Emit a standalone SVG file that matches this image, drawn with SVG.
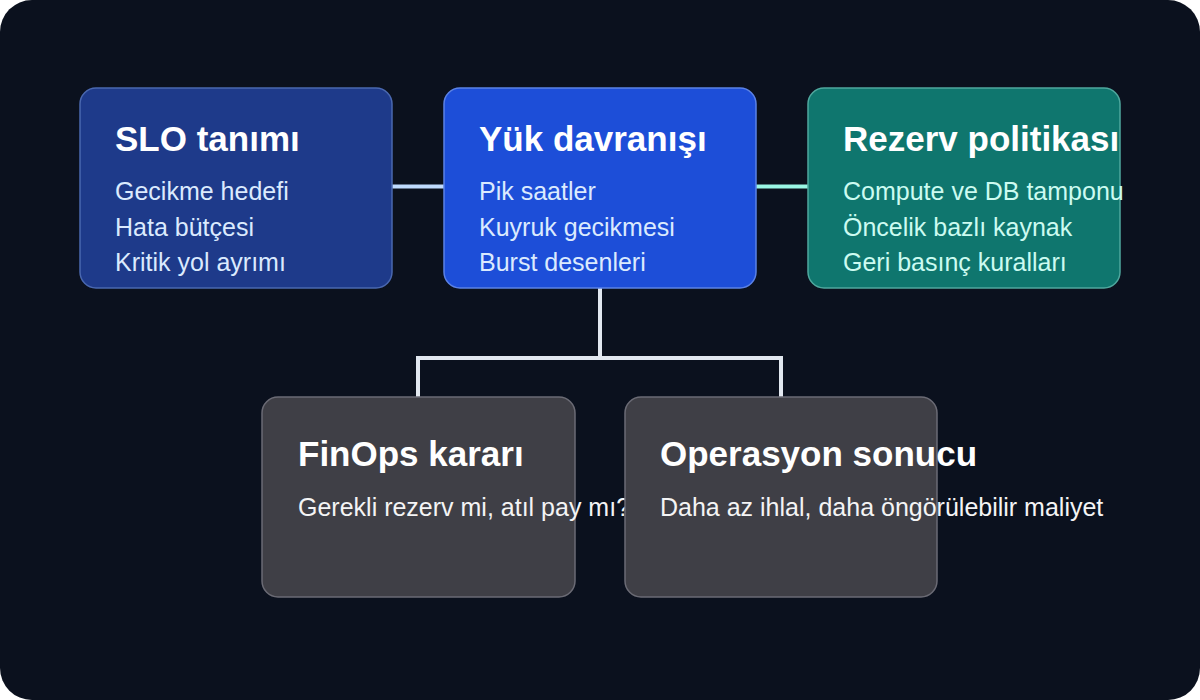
<svg xmlns="http://www.w3.org/2000/svg" width="1200" height="700" viewBox="0 0 1200 700">
<style>
.node rect{stroke-width:1.5}
.title{font-family:"Liberation Sans",Arial,sans-serif;font-weight:bold;font-size:35px;fill:#ffffff}
.body{font-family:"Liberation Sans",Arial,sans-serif;font-size:25px}
.conn{fill:none;stroke-width:4;stroke-linecap:round;stroke-linejoin:miter}
</style>
<rect x="0" y="0" width="1200" height="700" fill="#ffffff"/>
<rect x="0" y="0" width="1200" height="700" rx="32" fill="#0b111e"/>
<g id="connectors">
<line class="conn" x1="392" y1="186.5" x2="444" y2="186.5" stroke="#bfdbfe"/>
<line class="conn" x1="756" y1="186.5" x2="808" y2="186.5" stroke="#99f6e4"/>
<path class="conn" d="M600 288 V358 M418 397 V358 H781 V397" stroke="#e2e8f0"/>
</g>
<g id="slo" class="node">
<rect x="80" y="88" width="312" height="200" rx="16" fill="#1e3a8a" stroke="#4a68b0"/>
<text class="title" x="115" y="151">SLO tanımı</text>
<text class="body" fill="#dbeafe" x="115" y="200">Gecikme hedefi</text>
<text class="body" fill="#dbeafe" x="115" y="235.5">Hata bütçesi</text>
<text class="body" fill="#dbeafe" x="115" y="271">Kritik yol ayrımı</text>
</g>
<g id="yuk" class="node">
<rect x="444" y="88" width="312" height="200" rx="16" fill="#1d4ed8" stroke="#5b82e6"/>
<text class="title" x="479" y="151">Yük davranışı</text>
<text class="body" fill="#dbeafe" x="479" y="200">Pik saatler</text>
<text class="body" fill="#dbeafe" x="479" y="235.5">Kuyruk gecikmesi</text>
<text class="body" fill="#dbeafe" x="479" y="271">Burst desenleri</text>
</g>
<g id="rezerv" class="node">
<rect x="808" y="88" width="312" height="200" rx="16" fill="#0f766e" stroke="#4fa89e"/>
<text class="title" x="843" y="151">Rezerv politikası</text>
<text class="body" fill="#ccfbf1" x="843" y="200">Compute ve DB tamponu</text>
<text class="body" fill="#ccfbf1" x="843" y="235.5">Öncelik bazlı kaynak</text>
<text class="body" fill="#ccfbf1" x="843" y="271">Geri basınç kuralları</text>
</g>
<g id="finops" class="node">
<rect x="262" y="397" width="313" height="200" rx="16" fill="#3f3f46" stroke="#6b6b75"/>
<text class="title" x="298" y="466">FinOps kararı</text>
<text class="body" fill="#f4f4f5" x="298" y="516">Gerekli rezerv mi, atıl pay mı?</text>
</g>
<g id="operasyon" class="node">
<rect x="625" y="397" width="312" height="200" rx="16" fill="#3f3f46" stroke="#6b6b75"/>
<text class="title" x="660" y="466">Operasyon sonucu</text>
<text class="body" fill="#f4f4f5" x="660" y="516">Daha az ihlal, daha öngörülebilir maliyet</text>
</g>
</svg>
